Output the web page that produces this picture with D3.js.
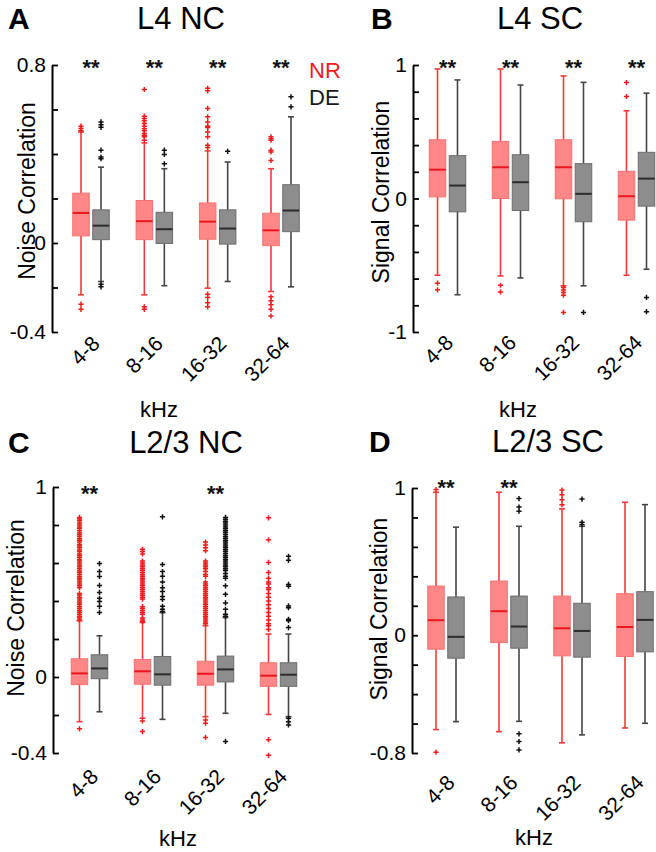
<!DOCTYPE html>
<html><head><meta charset="utf-8">
<script src="https://cdn.jsdelivr.net/npm/d3@7"></script>
<style>
body{margin:0;background:#fff}
svg{display:block}
text{font-family:"Liberation Sans",Arial,Helvetica,sans-serif}
</style>
</head><body>
<svg id="chart" width="656" height="852"></svg>
<script>
// ---------------- DATA ----------------
const categories = ["4-8", "8-16", "16-32", "32-64"];
const seriesNames = ["NR", "DE"];

// box rows per category: [whiskerLow, q1, median, q3, whiskerHigh]
// Panel A: L4 NC
const A_ticks = [-0.4, -0.2, 0, 0.2, 0.4, 0.6, 0.8];
const A_tickLabels = ["-0.4", "", "0", "", "", "", "0.8"];
const A_NR_box = [[-0.233, 0.032, 0.135, 0.224, 0.499], [-0.233, 0.015, 0.098, 0.191, 0.45], [-0.203, 0.017, 0.096, 0.18, 0.414], [-0.218, -0.012, 0.057, 0.134, 0.334]];
const A_DE_box = [[-0.173, 0.015, 0.078, 0.149, 0.341], [-0.192, -0.002, 0.062, 0.138, 0.334], [-0.173, -0.005, 0.065, 0.149, 0.364], [-0.197, 0.051, 0.146, 0.262, 0.567]];
const A_NR_out = [
  [0.525, 0.515, 0.505, -0.275, -0.298],
  [0.69, 0.57, 0.559, 0.549, 0.537, 0.525, 0.514, 0.504, 0.492, 0.484, 0.477, 0.462, -0.287, -0.298],
  [0.695, 0.684, 0.605, 0.567, 0.544, 0.525, 0.519, 0.499, 0.477, 0.439, 0.429, -0.23, -0.245, -0.268, -0.287],
  [0.477, 0.469, 0.462, 0.417, 0.409, 0.371, -0.242, -0.26, -0.278, -0.298, -0.328]];
const A_DE_out = [
  [0.544, 0.532, 0.52, 0.417, 0.386, 0.379, -0.185, -0.197],
  [0.417, 0.398, 0.356],
  [0.412],
  [0.657, 0.612]];
const A_stars = [true, true, true, true];

// Panel B: L4 SC
const B_ticks = [-1, -0.8, -0.6, -0.4, -0.2, 0, 0.2, 0.4, 0.6, 0.8, 1];
const B_tickLabels = ["-1", "", "", "", "", "0", "", "", "", "", "1"];
const B_NR_box = [[-0.575, 0.012, 0.216, 0.44, 0.97], [-0.58, 0, 0.234, 0.428, 0.97], [-0.654, -0.002, 0.234, 0.44, 0.918], [-0.575, -0.162, 0.017, 0.204, 0.657]];
const B_DE_box = [[-0.721, -0.1, 0.097, 0.321, 0.888], [-0.595, -0.09, 0.122, 0.328, 0.85], [-0.654, -0.174, 0.035, 0.261, 0.87], [-0.53, -0.057, 0.149, 0.346, 0.789]];
const B_NR_out = [
  [-0.634, -0.684],
  [-0.65, -0.70],
  [-0.667, -0.685, -0.705, -0.724, -0.853],
  [0.868, 0.764]];
const B_DE_out = [[], [], [-0.853], [-0.741, -0.848]];
const B_stars = [true, true, true, true];

// Panel C: L2/3 NC
const C_ticks = [-0.4, -0.2, 0, 0.2, 0.4, 0.6, 0.8, 1];
const C_tickLabels = ["-0.4", "", "0", "", "", "", "", "1"];
const C_NR_box = [[-0.235, -0.04, 0.019, 0.096, 0.296], [-0.217, -0.038, 0.03, 0.092, 0.287], [-0.209, -0.043, 0.017, 0.083, 0.27], [-0.197, -0.049, 0.007, 0.075, 0.226]];
const C_DE_box = [[-0.183, -0.009, 0.045, 0.117, 0.217], [-0.223, -0.043, 0.014, 0.108, 0.339], [-0.191, -0.026, 0.04, 0.11, 0.313], [-0.209, -0.049, 0.012, 0.075, 0.226]];
const C_NR_out = [
  [0.84, 0.831, 0.822, 0.81, 0.80, 0.79, 0.781, 0.77, 0.758, 0.749, 0.74, 0.728, 0.72, 0.71, 0.698, 0.69, 0.68, 0.669, 0.66, 0.648, 0.64, 0.63, 0.618, 0.61, 0.60, 0.589, 0.58, 0.57, 0.558, 0.55, 0.54, 0.529, 0.52, 0.51, 0.50, 0.49, 0.48, 0.47,
   0.44, 0.431, 0.42, 0.41, 0.40, 0.39, 0.381, 0.37, 0.36, 0.35, 0.341, 0.33, 0.32, 0.31, 0.30, -0.273],
  [0.672, 0.66, 0.648, 0.61, 0.60, 0.59, 0.58, 0.57, 0.56, 0.55, 0.54, 0.53, 0.52, 0.51, 0.50, 0.49, 0.48, 0.47, 0.46, 0.45, 0.44, 0.43, 0.42, 0.41,
   0.37, 0.36, 0.35, 0.34, 0.33, 0.31, 0.30, 0.292, -0.231, -0.287],
  [0.71, 0.695, 0.68, 0.665, 0.61, 0.60, 0.59, 0.58, 0.57, 0.555, 0.54, 0.53, 0.50, 0.49, 0.48, 0.47, 0.46, 0.45, 0.44, 0.43, 0.42, 0.41, 0.40, 0.39,
   0.38, 0.37, 0.36, 0.35, 0.34, 0.33, 0.32, 0.31, 0.30, 0.29, 0.28, -0.226, -0.243, -0.318],
  [0.838, 0.722, 0.603, 0.55, 0.52, 0.50, 0.49, 0.47, 0.46, 0.44, 0.42, 0.40, 0.38, 0.36, 0.34, 0.32, 0.30, 0.28, 0.27, 0.25, -0.33, -0.412]];
const C_DE_out = [
  [0.597, 0.555, 0.529, 0.482, 0.445, 0.414, 0.398, 0.372, 0.34],
  [0.843, 0.592, 0.555, 0.53, 0.50, 0.47, 0.45, 0.424, 0.408, 0.372, 0.356, 0.345],
  [0.84, 0.83, 0.82, 0.81, 0.80, 0.79, 0.78, 0.77, 0.76, 0.75, 0.74, 0.73, 0.72, 0.71, 0.70, 0.69, 0.68, 0.67, 0.66, 0.65, 0.64, 0.63, 0.62, 0.61,
   0.60, 0.59, 0.58, 0.57, 0.56, 0.545, 0.53, 0.52, 0.48, 0.435, 0.39, 0.356, 0.33, 0.32, -0.339],
  [0.635, 0.614, 0.487, 0.478, 0.374, 0.365, 0.304, 0.296, 0.26, -0.217, -0.235, -0.252]];
const C_stars = [true, false, true, false];

// Panel D: L2/3 SC
const D_ticks = [-0.8, -0.6, -0.4, -0.2, 0, 0.2, 0.4, 0.6, 0.8, 1];
const D_tickLabels = ["-0.8", "", "", "", "0", "", "", "", "", "1"];
const D_NR_box = [[-0.641, -0.095, 0.102, 0.334, 0.971], [-0.655, -0.05, 0.163, 0.368, 0.971], [-0.731, -0.14, 0.047, 0.266, 0.858], [-0.63, -0.144, 0.056, 0.282, 0.903]];
const D_DE_box = [[-0.587, -0.156, -0.011, 0.26, 0.734], [-0.585, -0.088, 0.059, 0.266, 0.74], [-0.677, -0.149, 0.029, 0.217, 0.74], [-0.598, -0.113, 0.104, 0.296, 0.887]];
const D_NR_out = [[0.989, -0.795], [], [0.986, 0.955, 0.921, 0.887], []];
const D_DE_out = [[], [0.928, 0.871, 0.842, -0.67, -0.722, -0.779], [0.925, 0.767, 0.752], []];
const D_stars = [true, true, false, false];

// ---------------- LAYOUT ----------------
const panels = [
  {letter: "A", title: "L4 NC", ylabel: "Noise Correlation", ticks: A_ticks, tickLabels: A_tickLabels,
   box: {NR: A_NR_box, DE: A_DE_box}, out: {NR: A_NR_out, DE: A_DE_out}, stars: A_stars,
   axisX: 52, top: 65, bottom: 332, xRange: [91, 281], starY: 62,
   catDx: 10, catDy: 13, kX: 159, kY: 417, yLX: 35, yLY: 191, tX: 181, tY: 29, lX: 8},
  {letter: "B", title: "L4 SC", ylabel: "Signal Correlation", ticks: B_ticks, tickLabels: B_tickLabels,
   box: {NR: B_NR_box, DE: B_DE_box}, out: {NR: B_NR_out, DE: B_DE_out}, stars: B_stars,
   axisX: 413, top: 65, bottom: 332, xRange: [447.5, 636.5], starY: 62,
   catDx: 7, catDy: 12, kX: 518, kY: 417, yLX: 389, yLY: 192, tX: 540, tY: 29, lX: 371},
  {letter: "C", title: "L2/3 NC", ylabel: "Noise Correlation", ticks: C_ticks, tickLabels: C_tickLabels,
   box: {NR: C_NR_box, DE: C_DE_box}, out: {NR: C_NR_out, DE: C_DE_out}, stars: C_stars,
   axisX: 53, top: 487, bottom: 753, xRange: [89.5, 278.5], starY: 488,
   catDx: 10, catDy: 25, kX: 178, kY: 846, yLX: 24, yLY: 608, tX: 186, tY: 453, lX: 8},
  {letter: "D", title: "L2/3 SC", ylabel: "Signal Correlation", ticks: D_ticks, tickLabels: D_tickLabels,
   box: {NR: D_NR_box, DE: D_DE_box}, out: {NR: D_NR_out, DE: D_DE_out}, stars: D_stars,
   axisX: 412, top: 488, bottom: 753, xRange: [446, 635], starY: 482,
   catDx: 10, catDy: 31, kX: 534, kY: 845, yLX: 387, yLY: 609, tX: 548, tY: 452, lX: 369}
];

const COL = {
  NR: {fill: "#ff8787", stroke: "#f47272", med: "#e8181e", whisk: "#f23a3a", out: "#f01c1c"},
  DE: {fill: "#8d8d8d", stroke: "#6c6c6c", med: "#2c2c2c", whisk: "#454545", out: "#111111"}
};
const FONT = '"Liberation Sans", Arial, Helvetica, sans-serif';
const svg = d3.select("#chart");

function drawPanel(p) {
  const g = svg.append("g");
  const y = d3.scaleLinear().domain([p.ticks[0], p.ticks[p.ticks.length - 1]]).range([p.bottom, p.top]);
  const x = d3.scalePoint().domain(categories).range(p.xRange);
  const inner = d3.scaleBand().domain(seriesNames).range([-20, 20]);
  const bw = 16.5, cap = 3;

  // y axis
  const axis = d3.axisLeft(y).tickValues(p.ticks).tickSizeInner(-6).tickSizeOuter(0).tickPadding(6)
    .tickFormat((d, i) => p.tickLabels[i]);
  const ag = g.append("g").attr("transform", `translate(${p.axisX},0)`).call(axis)
    .attr("font-size", 21).attr("font-family", FONT).attr("color", "#000");
  ag.select(".domain").attr("stroke-width", 2);
  ag.selectAll(".tick line").attr("stroke-width", 1.8);

  seriesNames.forEach(s => {
    const c = COL[s];
    categories.forEach((cat, i) => {
      const [lo, q1, med, q3, hi] = p.box[s][i];
      const cx = x(cat) + inner(s) + inner.bandwidth() / 2;
      const bg = g.append("g");
      bg.append("line").attr("x1", cx).attr("x2", cx).attr("y1", y(hi)).attr("y2", y(q3))
        .attr("stroke", c.whisk).attr("stroke-width", 1.6);
      bg.append("line").attr("x1", cx).attr("x2", cx).attr("y1", y(q1)).attr("y2", y(lo))
        .attr("stroke", c.whisk).attr("stroke-width", 1.6);
      [lo, hi].forEach(v => bg.append("line").attr("x1", cx - cap).attr("x2", cx + cap)
        .attr("y1", y(v)).attr("y2", y(v)).attr("stroke", c.whisk).attr("stroke-width", 1.6));
      bg.append("rect").attr("x", cx - bw / 2).attr("width", bw).attr("y", y(q3)).attr("height", y(q1) - y(q3))
        .attr("fill", c.fill).attr("stroke", c.stroke).attr("stroke-width", 1);
      bg.append("line").attr("x1", cx - bw / 2).attr("x2", cx + bw / 2).attr("y1", y(med)).attr("y2", y(med))
        .attr("stroke", c.med).attr("stroke-width", 2);
      bg.selectAll("path.o").data(p.out[s][i]).join("path").attr("class", "o")
        .attr("transform", v => `translate(${cx},${y(v)})`)
        .attr("d", "M-2.6,0H2.6M0,-2.6V2.6")
        .attr("stroke", c.out).attr("stroke-width", 1.5).attr("fill", "none");
    });
  });

  // significance stars
  categories.forEach((cat, i) => {
    if (!p.stars[i]) return;
    g.append("text").attr("x", x(cat)).attr("y", p.starY + 13).attr("text-anchor", "middle")
      .attr("font-size", 22).attr("font-weight", "bold").attr("fill", "#111").text("**");
  });

  // category labels
  categories.forEach(cat => {
    const X = x(cat) + p.catDx, Y = p.bottom + p.catDy;
    g.append("text").attr("x", X).attr("y", Y).attr("text-anchor", "end")
      .attr("transform", `rotate(-45,${X},${Y})`).attr("font-size", 21).attr("fill", "#000").text(cat);
  });

  g.append("text").attr("x", p.kX).attr("y", p.kY).attr("text-anchor", "middle")
    .attr("font-size", 22).attr("fill", "#000").text("kHz");
  g.append("text").attr("transform", `translate(${p.yLX},${p.yLY}) rotate(-90)`).attr("text-anchor", "middle")
    .attr("font-size", 23).attr("fill", "#000").text(p.ylabel);
  g.append("text").attr("x", p.tX).attr("y", p.tY).attr("text-anchor", "middle")
    .attr("font-size", 31).attr("fill", "#000").text(p.title);
  g.append("text").attr("x", p.lX).attr("y", p.tY).attr("font-size", 30).attr("font-weight", "bold")
    .attr("fill", "#000").text(p.letter);
}

panels.forEach(drawPanel);

// legend
svg.append("text").attr("x", 309).attr("y", 78).attr("font-size", 22).attr("font-family", FONT)
  .attr("fill", COL.NR.out).text(seriesNames[0]);
svg.append("text").attr("x", 309).attr("y", 105).attr("font-size", 22).attr("font-family", FONT)
  .attr("fill", "#1a1a1a").text(seriesNames[1]);
</script>
</body></html>
